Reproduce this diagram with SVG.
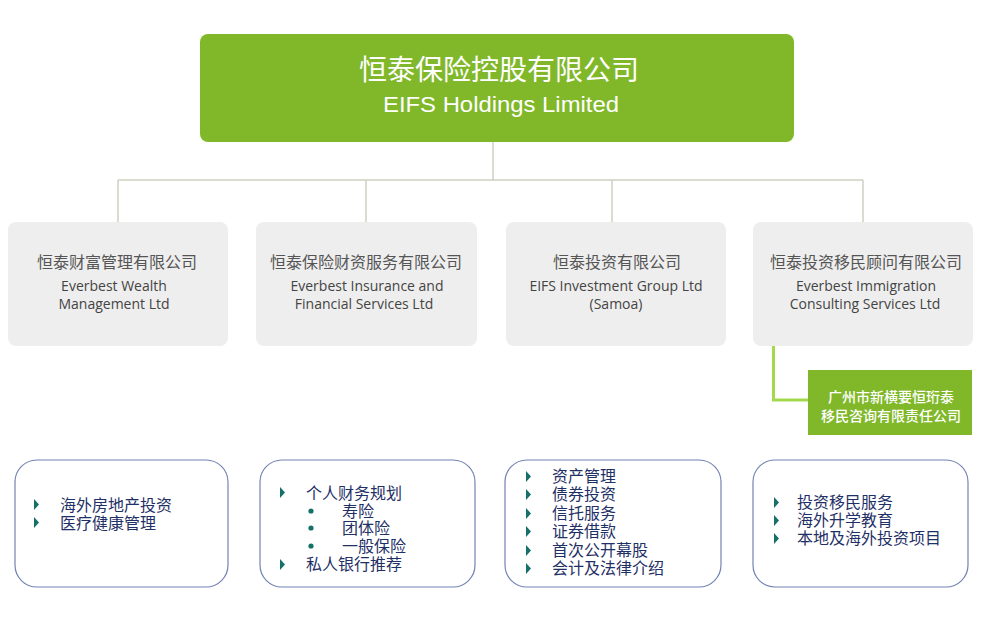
<svg xmlns="http://www.w3.org/2000/svg" width="985" height="639" viewBox="0 0 985 639">
<defs>
<style>
.bg{fill:#ffffff}
.top{fill:#80b82a}
.gray{fill:#eeeeee}
.sub{fill:#80b82a}
.list{fill:#ffffff;stroke:#7383b3;stroke-width:1.2}
.conn{stroke:#cfcfc0;stroke-width:1.5;fill:none}
.gconn{stroke:#a4d94c;stroke-width:3;fill:none}
.cn{font-family:"Noto Sans CJK SC","Noto Sans",sans-serif}
.en{font-family:"Open Sans","Noto Sans",sans-serif}
.t1{font-size:28px;fill:#ffffff;text-anchor:middle}
.t2{font-family:"Liberation Sans",Arial,sans-serif;font-size:22px;fill:#ffffff;text-anchor:middle}
.g1{font-size:16px;fill:#555555;text-anchor:middle}
.g2{font-size:14px;fill:#444444;text-anchor:middle}
.s1{font-size:14px;fill:#ffffff;text-anchor:middle;font-weight:500}
.li{font-size:16px;fill:#1f3066}
.tri{fill:#16706a}
</style>
</defs>
<rect class="bg" x="0" y="0" width="985" height="639"/>
<g id="connectors">
<path class="conn" d="M493 142 V180 M118 180 H863 M118 180 V222 M366 180 V222 M612 180 V222 M863 180 V222"/>
<path class="gconn" d="M773.5 346 V400 H808"/>
</g>
<g id="root">
<rect class="top" x="200" y="34" width="594" height="108" rx="8"/>
<text class="cn t1" x="499" y="80">恒泰保险控股有限公司</text>
<text class="t2" x="501" y="112" textLength="236" lengthAdjust="spacingAndGlyphs">EIFS Holdings Limited</text>
</g>
<g id="wealth">
<rect class="gray" x="8" y="222" width="220" height="124" rx="8"/>
<text class="cn g1" x="117" y="268">恒泰财富管理有限公司</text>
<text class="en g2" x="114" y="291">Everbest Wealth</text>
<text class="en g2" x="114" y="309">Management Ltd</text>
</g>
<g id="insurance">
<rect class="gray" x="256" y="222" width="221" height="124" rx="8"/>
<text class="cn g1" x="366" y="268">恒泰保险财资服务有限公司</text>
<text class="en g2" x="367" y="291">Everbest Insurance and</text>
<text class="en g2" x="364" y="309">Financial Services Ltd</text>
</g>
<g id="investment">
<rect class="gray" x="506" y="222" width="220" height="124" rx="8"/>
<text class="cn g1" x="617" y="268">恒泰投资有限公司</text>
<text class="en g2" x="616" y="291">EIFS Investment Group Ltd</text>
<text class="en g2" x="616" y="309">(Samoa)</text>
</g>
<g id="immigration">
<rect class="gray" x="753" y="222" width="220" height="124" rx="8"/>
<text class="cn g1" x="866" y="268">恒泰投资移民顾问有限公司</text>
<text class="en g2" x="866" y="291">Everbest Immigration</text>
<text class="en g2" x="865" y="309">Consulting Services Ltd</text>
</g>
<g id="guangzhou">
<rect class="sub" x="808" y="370" width="164" height="65"/>
<text class="cn s1" x="891" y="402">广州市新横要恒珩泰</text>
<text class="cn s1" x="891" y="421">移民咨询有限责任公司</text>
</g>
<g id="list1">
<rect class="list" x="15" y="460" width="213" height="127" rx="22"/>
<path class="tri" d="M34 499 L39 504.5 L34 510 Z M34 517 L39 522.5 L34 528 Z"/>
<text class="cn li" x="60" y="511">海外房地产投资</text>
<text class="cn li" x="60" y="529">医疗健康管理</text>
</g>
<g id="list2">
<rect class="list" x="260" y="460" width="215" height="127" rx="22"/>
<path class="tri" d="M280 487 L285 492.5 L280 498 Z M280 559 L285 564.5 L280 570 Z"/>
<circle class="tri" cx="311" cy="511" r="2.6"/>
<circle class="tri" cx="311" cy="528" r="2.6"/>
<circle class="tri" cx="311" cy="546" r="2.6"/>
<text class="cn li" x="306" y="499">个人财务规划</text>
<text class="cn li" x="342" y="517">寿险</text>
<text class="cn li" x="342" y="534">团体险</text>
<text class="cn li" x="342" y="552">一般保险</text>
<text class="cn li" x="306" y="570">私人银行推荐</text>
</g>
<g id="list3">
<rect class="list" x="505" y="460" width="216" height="127" rx="22"/>
<path class="tri" d="M526 471 L531 476.5 L526 482 Z M526 489 L531 494.5 L526 500 Z M526 508 L531 513.5 L526 519 Z M526 526 L531 531.5 L526 537 Z M526 545 L531 550.5 L526 556 Z M526 563 L531 568.5 L526 574 Z"/>
<text class="cn li" x="552" y="482">资产管理</text>
<text class="cn li" x="552" y="500">债券投资</text>
<text class="cn li" x="552" y="519">信托服务</text>
<text class="cn li" x="552" y="537">证券借款</text>
<text class="cn li" x="552" y="556">首次公开幕股</text>
<text class="cn li" x="552" y="574">会计及法律介绍</text>
</g>
<g id="list4">
<rect class="list" x="753" y="460" width="215" height="127" rx="22"/>
<path class="tri" d="M774 497 L779 502.5 L774 508 Z M774 515 L779 520.5 L774 526 Z M774 533 L779 538.5 L774 544 Z"/>
<text class="cn li" x="797" y="508">投资移民服务</text>
<text class="cn li" x="797" y="526">海外升学教育</text>
<text class="cn li" x="797" y="544">本地及海外投资项目</text>
</g>
</svg>
